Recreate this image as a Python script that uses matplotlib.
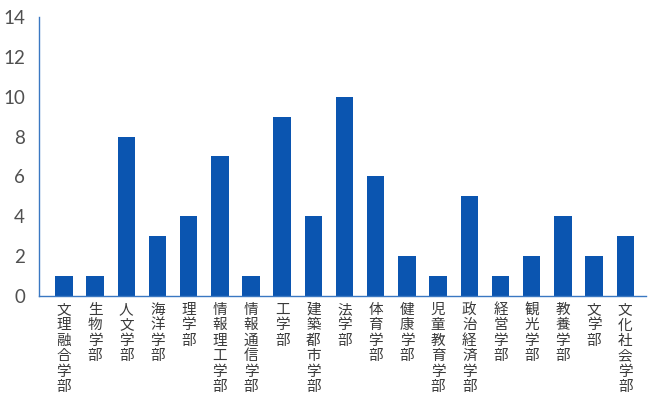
import matplotlib
matplotlib.use("Agg")
import matplotlib.pyplot as plt

plt.rcParams["font.family"] = ["Noto Sans CJK JP", "DejaVu Sans"]

# 学部別の件数
faculties = ["文理融合学部", "生物学部", "人文学部", "海洋学部", "理学部",
             "情報理工学部", "情報通信学部", "工学部", "建築都市学部", "法学部",
             "体育学部", "健康学部", "児童教育学部", "政治経済学部", "経営学部",
             "観光学部", "教養学部", "文学部", "文化社会学部"]
counts = [1, 1, 8, 3, 4, 7, 1, 9, 4, 10, 6, 2, 1, 5, 1, 2, 4, 2, 3]
yticks = [0, 2, 4, 6, 8, 10, 12, 14]

BAR = "#0b55b0"
AXIS = "#3a78c2"

fig = plt.figure(figsize=(6.55, 4.03), dpi=100)
ax = fig.add_axes([0.0595, 0.2655, 0.926, 0.6925])

x = list(range(len(faculties)))
ax.bar(x, counts, width=0.56, color=BAR, zorder=2)

ax.set_xlim(-0.8, len(faculties) - 1 + 0.65)
ax.set_ylim(0, 14)
ax.set_yticks(yticks)
ax.set_yticklabels([str(v) for v in yticks], fontsize=13.5, color="#505050",
                   family=["Lato", "DejaVu Sans"], weight="normal")
ax.tick_params(axis="y", length=0, pad=10)

# 縦書きラベル: 一文字ずつ改行
ax.set_xticks(x)
ax.set_xticklabels(["\n".join(f) for f in faculties], fontsize=10.5,
                   color="#3a3a3a", linespacing=1.13, va="top")
ax.tick_params(axis="x", length=0, pad=5)

for s in ("top", "right"):
    ax.spines[s].set_visible(False)
for s in ("left", "bottom"):
    ax.spines[s].set_color(AXIS)
    ax.spines[s].set_linewidth(1.0)

fig.savefig("out.png", dpi=100)
